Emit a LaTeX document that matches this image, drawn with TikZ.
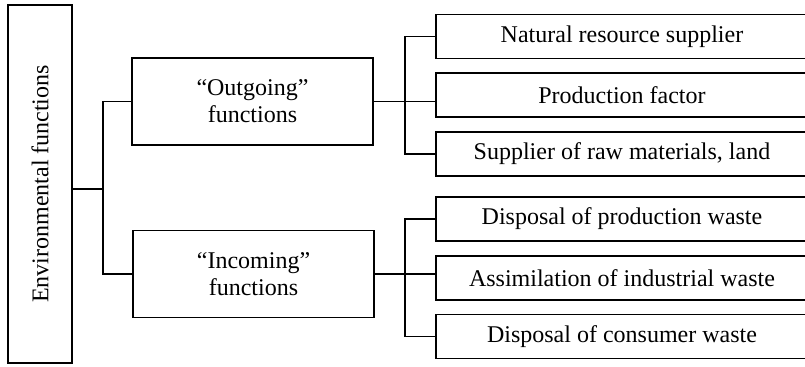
\documentclass[tikz,border=0pt]{standalone}
\usepackage{fontspec}
\setmainfont{Liberation Serif}
\usetikzlibrary{positioning}

\begin{document}
\begin{tikzpicture}[
  x=1pt, y=1pt,
  node distance=6.5pt,
  box/.style={
    rectangle, draw=black, line width=0.9pt, inner sep=2pt,
    align=center, font=\fontsize{12}{13.5}\selectfont
  },
  mainbox/.style={box, minimum width=32pt, minimum height=179pt},
  groupbox/.style={box, minimum width=120.5pt, minimum height=43.5pt},
  itembox/.style={box, minimum width=186pt, minimum height=22pt},
  link/.style={line width=0.9pt, draw=black}
]
\useasboundingbox (0,0) rectangle (402.5,183.5);

% Root
\node[mainbox] (env) at (20,91.5) {\rotatebox{90}{Environmental functions}};

% Groups
\node[groupbox] (out) at (126.25,132.75) {“Outgoing”\\functions};
\node[groupbox] (inc) at (126.75,46.5) {“Incoming”\\functions};

% Items - right column
\node[itembox] (nat) at (311,165.25) {Natural resource supplier};
\node[itembox, below=of nat] (prod) {Production factor};
\node[itembox, below=of prod] (raw) {Supplier of raw materials, land};
\node[itembox, below=9.5pt of raw] (dprod) {Disposal of production waste};
\node[itembox, below=of dprod] (assim) {Assimilation of industrial waste};
\node[itembox, below=of assim] (dcons) {Disposal of consumer waste};

% Junctions
\coordinate (jl) at (51.5,89);
\coordinate (jr) at (202.5,0);

% Connectors
\draw[link] (env.east |- jl) -- (jl);
\draw[link] (out.west) -- (out.west -| jl) |- (inc.west);
\draw[link] (out.east) -- (out.east -| prod.west);
\draw[link] (nat.west) -- (nat.west -| jr) |- (raw.west);
\draw[link] (inc.east) -- (inc.east -| assim.west);
\draw[link] (dprod.west) -- (dprod.west -| jr) |- (dcons.west);

\end{tikzpicture}
\end{document}
